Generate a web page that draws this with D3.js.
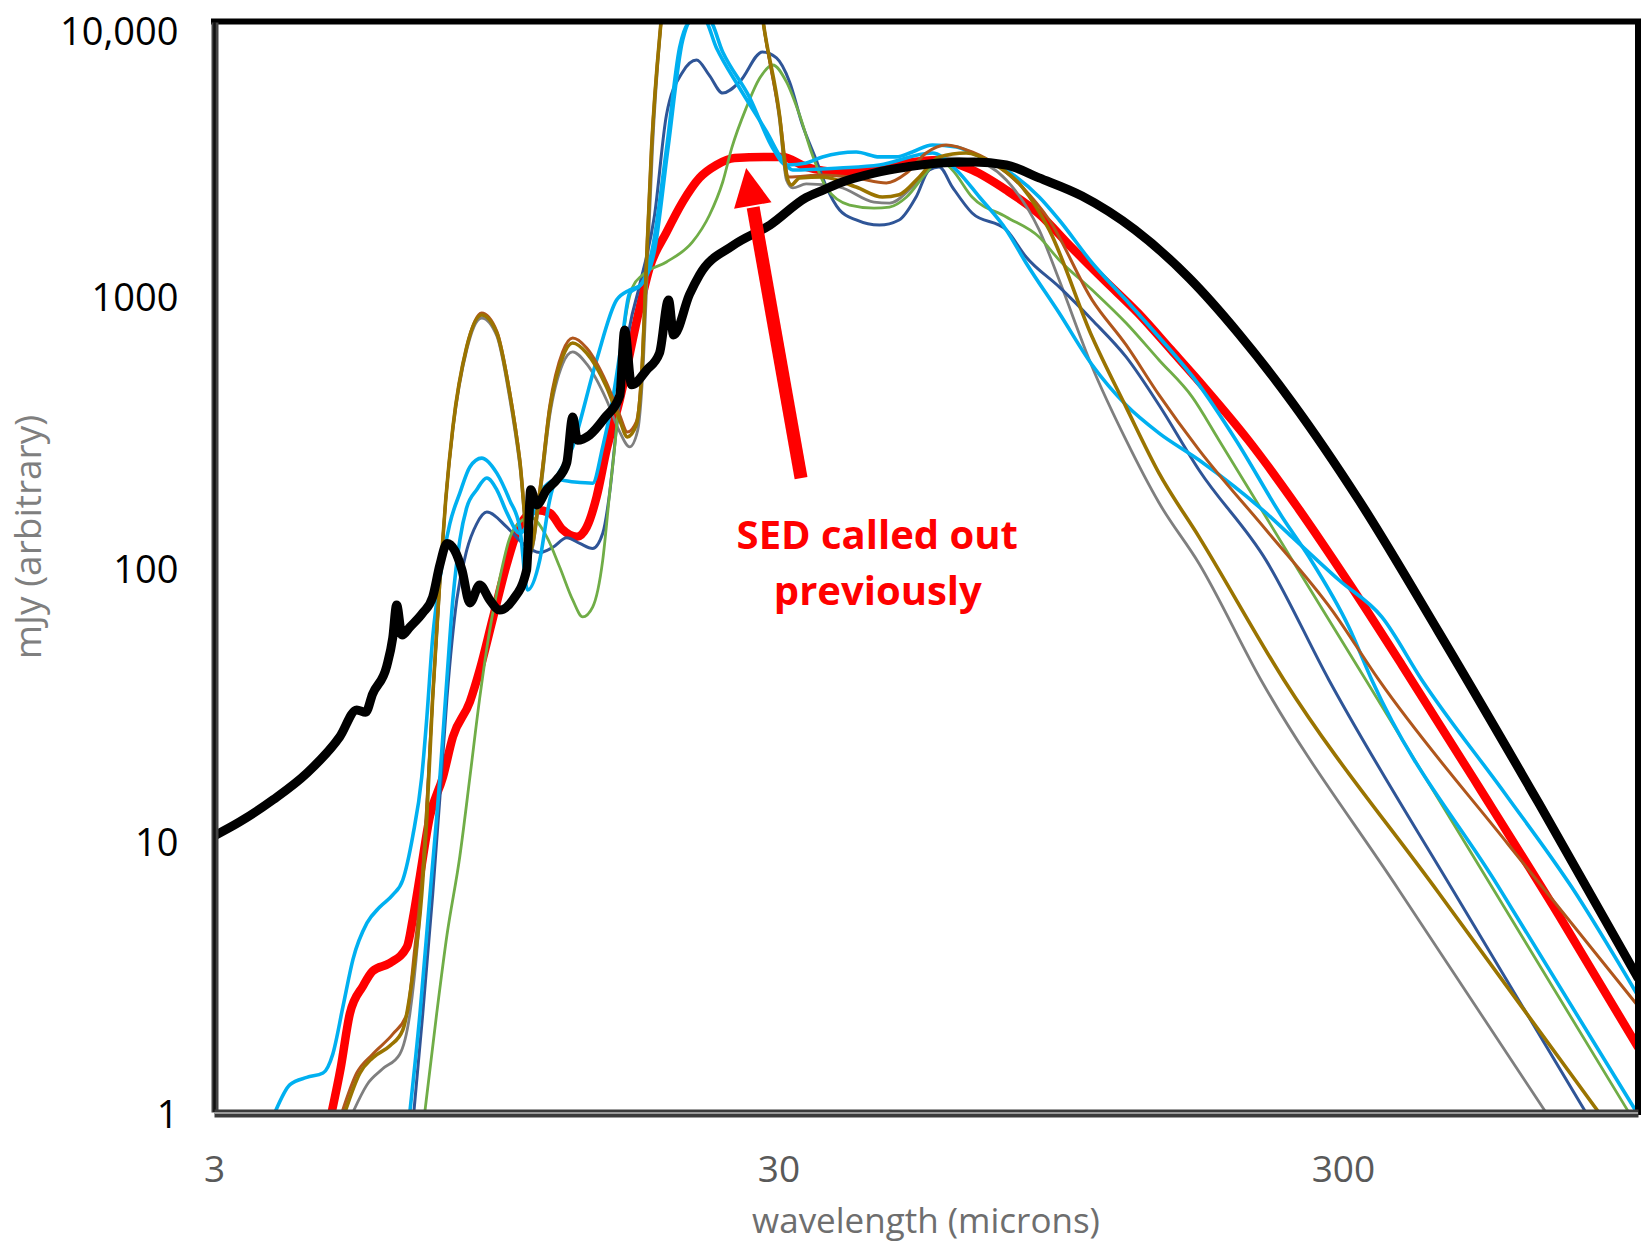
<!DOCTYPE html>
<meta charset="utf-8">
<style type="text/css">
   body { margin: 0; background: #fff; }
   /* every SED is a plain stroked path */
   .sed {
       fill: none;
       stroke-linejoin: round;
       stroke-linecap: round;
   }
   .axis text {
       font-family: "Open Sans", sans-serif;
   }
   .note {
       font-family: "Open Sans", sans-serif;
       font-weight: bold;
       fill: #ff0000;
   }
</style>
<body></body>
<script src="https://d3js.org/d3.v7.min.js"></script>
<script>
// [wavelength (microns), flux (mJy, arbitrary)]
var sedBlack = [[3.00,10.3],[3.33,11.6],[3.82,14.0],[4.38,17.5],[5.01,23.8],[5.37,29.9],[5.57,29.3],[5.73,34.2],
    [6.07,43.3],[6.22,54.9],[6.32,72.6],[6.46,56.3],[6.67,60.2],[7.03,67.8],[7.32,77.6],[7.54,102],[7.76,122],
    [8.01,115],[8.25,97.5],[8.52,73.8],[8.87,85.9],[9.24,75.7],[9.62,69.5],[10.15,75.7],[10.74,97.5],[10.92,192],
    [11.19,169],[11.66,192],[12.14,209],[12.65,241],[12.96,355],[13.22,292],[13.89,305],[14.76,352],[15.70,425],
    [16.02,741],[16.48,466],[17.52,528],[18.47,610],[19.16,955],[19.56,710],[20.87,1000],[21.74,1180],[24.9,1510],
    [29.0,1800],[33.6,2270],[36.0,2417],[38.5,2567],[44.3,2791],[50.6,2938],[57.8,3040],[66.7,3063],[76.0,2988],
    [86.9,2678],[103.5,2298],[128.5,1726],[160.2,1150],[196.4,716],[243.7,403],[320.2,176],
    [443.6,57.7],[666.9,13.6],[1000,3.10]];

var sedRed = [[4.85,1.0],[5.03,1.45],[5.22,2.29],[5.51,2.90],[5.73,3.29],[6.15,3.52],[6.59,4.03],[6.75,5.11],
    [6.95,7.34],[7.24,12.2],[7.63,16.9],[7.95,23.8],[8.52,32.0],[8.87,41.9],[9.35,64.4],[9.91,103],[10.32,134],
    [10.74,154],[11.19,162],[11.80,158],[12.44,137],[13.17,129],[13.72,140],[14.29,181],[14.88,269],[15.70,410],
    [17.03,892],[17.73,1250],[19.01,1694],[20.29,2183],[21.74,2678],[23.30,2988],[25.07,3170],[28.57,3199],
    [30.5,3199],[33.6,2938],[38.5,2818],[44.3,2865],[50.6,3040],[57.8,3118],[66.1,2865],[76.0,2417],[86.9,1974],
    [99.0,1494],[113.3,1130],[130.1,855],[148.9,626],[170.2,458],[204.5,290],[250.7,163],[307.4,87.4],
    [381.6,43.7],[522.3,15.6],[723.6,5.28],[1000,1.73]];

var sedBlueA = [[3.85,1.0],[4.09,1.26],[4.38,1.34],[4.68,1.39],[4.87,1.63],[5.08,2.45],[5.29,3.64],[5.60,4.94],
    [5.90,5.65],[6.22,6.26],[6.48,7.10],[6.75,10.3],[7.00,16.9],[7.15,28.2],[7.32,54.9],[7.54,90.4],[7.85,144],
    [8.18,187],[8.52,233],[8.94,251],[9.51,221],[10.02,176],[10.44,140],[10.78,82.3],[11.33,106],[11.80,176],
    [12.96,276],[14.29,575],[15.50,954],[16.35,1039],[17.1,1083],[17.95,1482],[19.01,3450],[20.04,8030],
    [20.9,10000],[22.1,10300],[23.3,8030],[25.6,5724],[28.6,3948],[30.5,3118],[31.8,2865],[38.5,2913],
    [45.3,2988],[56.2,3305],[62.0,2865],[68.1,2279],[76.0,1726],[82.4,1305],[94.3,855],[107.9,551],[123.9,393],
    [141.7,310],[166.8,247],[219.2,158],[243.7,129],[295.2,89.6],[351.6,65.6],[414,38.5],[583.3,14.6],
    [762.9,6.69],[1000,2.67]];

var sedBlueB = [[6.67,1.0],[6.95,2.29],[7.24,6.26],[7.54,16.9],[7.76,39.1],[7.95,76.3],[8.18,126],[8.41,165],
    [8.76,192],[9.13,212],[9.51,192],[9.91,158],[10.44,133],[11.0,155],[11.56,197],[12.14,209],[13.06,205],
    [14.06,203],[14.65,276],[15.25,410],[15.82,664],[16.35,1013],[17.1,1083],[18.1,1455],[19.1,3389],[20.3,8590],
    [21.2,10300],[22.6,10170],[23.9,7762],[26.7,5260],[29.3,3450],[31.0,2988],[33.6,3040],[35.9,3198],[41.2,3334],
    [45.3,3198],[48.5,3198],[51.8,3334],[56.2,3538],[62.0,3477],[66.1,3305],[76.0,2865],[86.9,2279],[94.3,1877],
    [107.9,1305],[123.9,954],[141.7,698],[166.8,466],[194,292],[234,153],[261.2,109],[307.4,60.2],[337.6,38.5],
    [566.4,6.69],[994,1.0]];

var sedNavy = [[6.78,1.0],[7.03,2.29],[7.32,6.26],[7.54,14.3],[7.76,33.1],[8.08,76.3],[8.41,115],[8.76,144],
    [9.13,159],[9.91,140],[10.57,122],[11.33,113],[11.94,118],[12.65,128],[13.34,122],[14.06,117],[14.65,133],
    [15.07,187],[15.5,326],[15.89,498],[16.35,760],[17.0,1066],[18.1,1958],[19.0,4560],[20.3,6555],[21.48,7255],
    [22.6,6396],[23.9,5487],[25.6,6026],[28.1,7762],[29.76,7379],[31.4,6026],[33.09,4188],[35.0,3118],[36.5,2479],
    [38.5,2042],[41.2,1877],[45.3,1798],[49.1,1877],[52.6,2279],[55.5,2865],[57.8,2938],[61.0,2479],[66.1,1991],
    [76.0,1726],[82.4,1373],[94.3,1066],[107.9,806],[123.9,590],[141.7,393],[166.8,227],[219.2,106],[283.4,38.5],
    [481.3,6.0],[807.6,1.0]];

var sedGreen = [[7.09,1.0],[7.44,2.29],[7.76,4.46],[8.18,8.70],[8.52,16.9],[8.87,33.1],[9.24,58.7],[9.62,90.4],
    [10.0,126],[10.57,149],[10.87,153],[11.66,129],[12.29,100],[12.96,75.7],[13.50,65.6],[14.06,71.3],[14.65,106],
    [15.07,187],[15.5,326],[15.89,664],[16.55,1066],[17.23,1180],[19.0,1316],[21.13,1559],[22.65,1958],[23.9,2588],
    [24.8,3450],[26.3,4834],[27.8,6225],[29.3,6954],[31.0,6026],[32.7,4560],[34.46,3250],[36.5,2460],[40.1,2130],
    [44.3,2076],[47.2,2093],[50.6,2279],[54.8,2791],[57.8,3118],[61.0,2865],[66.1,2279],[76.0,1925],[86.9,1625],
    [94.3,1339],[107.9,1039],[123.9,786],[141.7,575],[162.2,421],[181,292],[250.7,96.7],[329.5,38.5],
    [566.4,6.10],[962.4,1.0]];

var sedGold = [[5.12,1.0],[5.44,1.39],[5.73,1.58],[6.15,1.75],[6.48,2.00],[6.75,3.18],[7.0,6.26],[7.15,12.2],
    [7.32,33.1],[7.54,90.4],[7.72,176],[7.95,326],[8.41,642],[8.94,841],[9.51,722],[10.02,435],[10.44,247],
    [10.87,113],[11.33,187],[11.80,377],[12.44,590],[12.96,664],[13.72,610],[14.88,458],[15.70,346],[16.2,300],
    [16.8,332],[17.23,575],[17.52,1339],[17.88,3450],[18.62,10500],[19.64,28000],[21.74,60000],[24.4,60000],
    [26.66,28000],[28.1,10500],[30.13,4560],[31.0,2746],[31.63,2523],[32.7,2678],[35.9,2700],[41.2,2479],
    [45.85,2279],[49.1,2325],[53.3,2700],[57.8,3198],[64.5,3305],[71.8,3040],[81.1,2479],[90.55,1726],
    [107.9,698],[123.9,386],[141.7,221],[166.8,129],[235.9,38.5],[443.6,6.36],[851.3,1.0]];

var sedGray = [[5.29,1.0],[5.60,1.26],[5.97,1.44],[6.40,1.63],[6.67,2.29],[6.89,4.28],[7.09,9.96],[7.32,32.5],
    [7.54,85.9],[7.72,176],[7.95,318],[8.41,625],[8.94,820],[9.51,705],[10.02,417],[10.44,237],[10.87,110],
    [11.33,179],[11.80,358],[12.44,556],[12.96,616],[13.72,556],[14.88,410],[15.70,313],[16.35,276],[16.9,318],
    [17.3,575],[17.6,1339],[17.95,3450],[18.62,10500],[19.64,28000],[21.74,60000],[24.4,60000],[26.66,28000],
    [28.1,10500],[30.13,4365],[31.0,2631],[31.8,2460],[33.6,2546],[38.5,2479],[44.3,2184],[47.2,2166],[51.8,2479],
    [56.2,2938],[59.5,3170],[66.1,3118],[76.0,2631],[86.9,1726],[94.3,1130],[107.9,542],[123.9,292],[141.7,172],
    [166.8,103],[214.8,38.5],[376.9,6.53],[686.2,1.0]];

var sedBrown = [[5.06,1.0],[5.37,1.39],[5.73,1.63],[6.22,1.93],[6.59,2.29],[6.80,3.93],[7.05,8.41],[7.32,33.1],
    [7.54,90.4],[7.72,176],[7.95,326],[8.41,642],[8.94,855],[9.51,733],[10.02,442],[10.44,251],[10.87,115],
    [11.33,192],[11.80,390],[12.44,616],[12.96,692],[13.72,636],[14.88,474],[15.70,361],[16.2,313],[16.8,341],
    [17.23,597],[17.52,1380],[17.88,3500],[18.62,10500],[19.64,28000],[21.74,60000],[24.4,60000],[26.66,28000],
    [28.1,10500],[30.13,4560],[31.3,2700],[35.9,2746],[41.2,2678],[46.6,2567],[50.6,2791],[54.8,3305],[59.5,3538],
    [66.1,3334],[73.86,2938],[81.1,2479],[90.55,1877],[107.9,954],[123.9,653],[141.7,428],[166.8,269],
    [219.2,137],[286.9,69.5],[347.4,38.5],[590,9.55],[1000,2.45]];

var xTickValues = [3, 30, 300];
var yTickValues = [1, 10, 100, 1000, 10000];
var yTickLabels = ["1", "10", "100", "1000", "10,000"];
var xTitle = "wavelength (microns)";
var yTitle = "mJy (arbitrary)";
var noteLines = ["SED called out", "previously"];
var noteAt = [[44.9, 132], [45.0, 81.6]];
var arrowFrom = [32.9, 212], arrowTo = [26.3, 2910];

var width = 1645, height = 1242;
var plot = {left: 214, right: 1638, top: 22, bottom: 1112};

var svg = d3.select("body")
    .append("svg")
    .attr("width", width)
    .attr("height", height);

var xScale = d3.scaleLog().domain([3, 1000]).range([plot.left, plot.right]);
var yScale = d3.scaleLog().domain([1, 10000]).range([plot.bottom, plot.top]);

svg.append("defs").append("clipPath")
    .attr("id", "plotClip")
    .append("rect")
    .attr("x", plot.left)
    .attr("y", plot.top)
    .attr("width", plot.right - plot.left)
    .attr("height", plot.bottom - plot.top);

// drawing order: red underneath, thin models, black on top
var series = [
    {data: sedRed, color: "#ff0000", width: 8.5},
    {data: sedGray, color: "#7f7f7f", width: 2.8},
    {data: sedNavy, color: "#2f5597", width: 3},
    {data: sedGreen, color: "#70ad47", width: 2.8},
    {data: sedBlueB, color: "#00b0f0", width: 3.6},
    {data: sedBlueA, color: "#00b0f0", width: 3.6},
    {data: sedBrown, color: "#b0561c", width: 3},
    {data: sedGold, color: "#9a7400", width: 3.6},
    {data: sedBlack, color: "#000000", width: 9}
];

var line = d3.line()
    .x(d => xScale(d[0]))
    .y(d => yScale(d[1]))
    .curve(d3.curveMonotoneX);

var lines = svg.append("g").attr("clip-path", "url(#plotClip)");
lines.selectAll(".sed")
    .data(series)
    .enter()
    .append("path")
    .attr("class", "sed")
    .attr("d", d => line(d.data))
    .attr("stroke", d => d.color)
    .attr("stroke-width", d => d.width);

// frame: top and right are plain black, left and bottom are the axes
svg.append("line")
    .attr("x1", plot.left - 3).attr("x2", plot.right + 3)
    .attr("y1", plot.top - 0.5).attr("y2", plot.top - 0.5)
    .attr("stroke", "#000").attr("stroke-width", 6);
svg.append("line")
    .attr("x1", plot.right).attr("x2", plot.right)
    .attr("y1", plot.top - 3).attr("y2", plot.bottom + 3)
    .attr("stroke", "#000").attr("stroke-width", 6);

var yAxis = svg.append("g")
    .attr("class", "axis axis--y")
    .attr("transform", "translate(" + (plot.left + 0.5) + ",0)")
    .call(d3.axisLeft(yScale)
        .tickValues(yTickValues)
        .tickFormat((d, i) => yTickLabels[i])
        .tickSize(0)
        .tickPadding(36));
yAxis.select(".domain").attr("stroke", "#444").attr("stroke-width", 7);
yAxis.append("path")
    .attr("d", "M0," + plot.top + "V" + plot.bottom)
    .attr("stroke", "#111").attr("stroke-width", 2.5);
yAxis.selectAll(".tick text")
    .attr("dy", d => d === 10000 ? "0.58em" : "0.42em")
    .style("font-size", "38px")
    .attr("fill", "#000");

var xAxis = svg.append("g")
    .attr("class", "axis axis--x")
    .attr("transform", "translate(0," + (plot.bottom + 1) + ")")
    .call(d3.axisBottom(xScale)
        .tickValues(xTickValues)
        .tickFormat(d3.format("d"))
        .tickSize(0)
        .tickPadding(43));
xAxis.select(".domain").attr("stroke", "#3a3a3a").attr("stroke-width", 8);
xAxis.append("path")
    .attr("d", "M" + plot.left + ",0H" + plot.right)
    .attr("stroke", "#9a9a9a").attr("stroke-width", 2);
xAxis.selectAll(".tick text")
    .style("font-size", "37px")
    .attr("fill", "#595959");

// axis titles
svg.append("text")
    .attr("x", (plot.left + plot.right) / 2)
    .attr("y", 1233)
    .attr("text-anchor", "middle")
    .style("font-family", "'Open Sans', sans-serif")
    .style("font-size", "35px")
    .attr("fill", "#6e6e6e")
    .text(xTitle);

svg.append("text")
    .attr("transform", "translate(41,537) rotate(-90)")
    .attr("text-anchor", "middle")
    .style("font-family", "'Open Sans', sans-serif")
    .style("font-size", "37px")
    .attr("fill", "#7f7f7f")
    .text(yTitle);

// callout arrow and note
var tip = [xScale(arrowTo[0]), yScale(arrowTo[1])];
var tail = [xScale(arrowFrom[0]), yScale(arrowFrom[1])];
var dx = tip[0] - tail[0], dy = tip[1] - tail[1];
var len = Math.sqrt(dx * dx + dy * dy);
var ux = dx / len, uy = dy / len;
var headLen = 38, headHalf = 19;
var base = [tip[0] - ux * headLen, tip[1] - uy * headLen];

svg.append("line")
    .attr("x1", tail[0]).attr("y1", tail[1])
    .attr("x2", base[0] - ux * 2).attr("y2", base[1] - uy * 2)
    .attr("stroke", "#ff0000")
    .attr("stroke-width", 13);
svg.append("path")
    .attr("d", d3.line()([
        tip,
        [base[0] - uy * headHalf, base[1] + ux * headHalf],
        [base[0] + uy * headHalf, base[1] - ux * headHalf]
    ]) + "Z")
    .attr("fill", "#ff0000");

svg.selectAll(".note")
    .data(noteLines)
    .enter()
    .append("text")
    .attr("class", "note")
    .attr("x", (d, i) => xScale(noteAt[i][0]))
    .attr("y", (d, i) => yScale(noteAt[i][1]))
    .attr("dy", "0.36em")
    .attr("text-anchor", "middle")
    .style("font-size", "40px")
    .text(d => d);
</script>
